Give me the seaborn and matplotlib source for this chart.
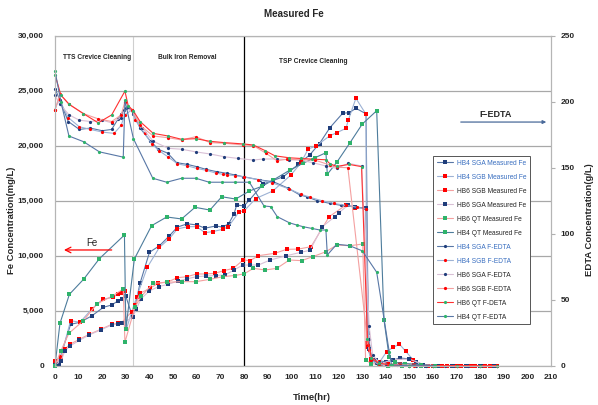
import numpy as np
import pandas as pd
import matplotlib.pyplot as plt
import seaborn as sns
from matplotlib.ticker import FuncFormatter, MultipleLocator

# ---- data (time in hr) ----
# Fe concentration, mg/L (left axis)
HB4_SGA_FE_T = [0, 1.5, 3, 6.6, 10.6, 15.5, 20.5, 24, 26.8, 28.5, 30, 32.9, 36, 40, 44.2, 48.4, 51.8, 56, 60, 63.5,
                68, 71, 73.5, 75.8, 76.9, 80, 82.3, 88.2, 96.7, 103, 108, 112, 116.4, 121.8, 124.6, 127.4, 131.7,
                132.6, 134, 136, 140, 143.2, 146, 150.3, 153, 157, 163, 169, 175, 181, 187]
HB4_SGA_FE = [300, 200, 1300, 3760, 3950, 4520, 5310, 5520, 5910, 6100, 6300, 4400, 7490, 10310, 10900, 11800, 12600,
              12900, 12800, 12500, 12700, 12600, 12900, 13790, 14610, 14520, 15060, 16520, 17180, 18300, 19200, 20200,
              21640, 22950, 23000, 23400, 22900, 2940, 580, 500, 350, 520, 700, 610, 350, 0, 0, 0, 0, 0, 0]

HB4_SGB_FE_T = [0, 2.5, 6.6, 10.6, 15.5, 20.2, 24.7, 26.5, 28.5, 29.5, 30.2, 32.5, 34.6, 39.1, 44.2, 48.4, 51.8, 56.2,
                60, 63.5, 67, 71, 73.4, 78, 80, 85, 92.2, 99.9, 104, 107.2, 110.5, 116.4, 119.5, 123.2, 124.2, 127.4,
                131.7, 131.9, 134, 137, 140.4, 143.2, 145.8, 148.5, 151.7, 155, 160, 166, 172, 178, 184, 187]
HB4_SGB_FE = [400, 800, 4090, 3950, 5130, 6040, 6220, 6520, 6640, 6800, 3300, 4910, 6270, 8950, 10760, 11550, 12430,
              12640, 12640, 12090, 12200, 12400, 12640, 14000, 14060, 15200, 15880, 17340, 18400, 19700, 19970, 20910,
              21200, 21580, 22340, 24310, 22850, 2030, 400, 200, 1270, 1670, 1970, 1300, 520, 100, 0, 0, 0, 0, 0, 0]

HB6_SGB_FE_T = [0, 2.5, 4.2, 6.4, 10.3, 14.5, 19.3, 24, 26.8, 28.2, 32.5, 34, 36, 40.2, 43.7, 48, 51.8, 55.8, 60, 63.8,
                67.7, 71.5, 75.5, 79.7, 82.6, 86.1, 93.1, 98.1, 103, 108.4, 116.1, 123.2, 127, 131.7, 132.2, 134, 137,
                141, 146, 152, 158, 164, 170, 176, 182, 187]
HB6_SGB_FE = [200, 700, 1520, 1950, 2400, 2850, 3300, 3760, 3850, 3910, 4910, 5500, 6580, 7040, 7490, 7640, 8000, 8090,
              8340, 8340, 8400, 8640, 8850, 9610, 9550, 10000, 10220, 10580, 10600, 10820, 13550, 14610, 14360, 14310,
              1730, 600, 300, 200, 150, 100, 0, 0, 0, 0, 0, 0]

HB6_SGA_FE_T = [0, 2.5, 4.2, 6.4, 10.3, 14.5, 19.3, 24, 26.8, 28.2, 32.9, 34.5, 36.5, 40, 44, 48, 52, 56, 60, 64, 68,
                72, 75.8, 79.5, 82.6, 86.1, 91, 98, 104, 108, 113.2, 118.5, 120.2, 124.2, 127, 131.7, 133, 135, 138,
                143, 150, 156, 162, 168, 174, 180, 186]
HB6_SGA_FE = [100, 400, 1350, 1800, 2300, 2800, 3250, 3700, 3800, 3850, 4400, 5200, 6100, 6800, 7200, 7400, 7700, 7900,
              8100, 8150, 8200, 8250, 8700, 9150, 9150, 9150, 9600, 10000, 10300, 10500, 12640, 13550, 13910, 14610,
              14400, 14300, 1500, 500, 200, 550, 600, 100, 0, 0, 0, 0, 0]

HB6_QT_FE_T = [0, 2.5, 5.9, 12, 17.7, 24, 28.9, 29.6, 33.9, 36.5, 41.6, 47.3, 53.6, 59.6, 65.6, 71, 76, 80, 84, 88.9,
               93.9, 99.2, 104.4, 109.1, 114.7, 119.3, 124.9, 130.3, 131.5, 134, 137, 141, 147, 155, 161]
HB6_QT_FE = [0, 1360, 2950, 4090, 5610, 6300, 6970, 2130, 5360, 6300, 7490, 7580, 7640, 7640, 7850, 8090, 8200, 8340,
             8850, 8700, 8850, 9610, 9550, 9910, 10360, 10970, 10910, 11060, 500, 200, 100, 0, 0, 0, 0]

HB4_QT_FE_T = [0, 2.1, 6.1, 12.2, 18.8, 29.4, 30, 33.6, 40.9, 47.3, 53.6, 59.3, 65.6, 70.6, 76.5, 82.3, 87.5, 92.4,
               99.5, 105, 110, 114.7, 115.3, 119.5, 124.9, 130.1, 136.2, 139.3, 141.5, 144, 148, 155, 161]
HB4_QT_FE = [0, 3850, 6490, 7880, 9730, 11880, 3340, 9700, 12730, 13520, 13340, 14400, 14150, 15360, 15150, 15880,
             16300, 16880, 17790, 18400, 18900, 19360, 17400, 18550, 20270, 21970, 23180, 4150, 760, 300, 200, 100, 0]

# F-EDTA concentration, g/L (right axis)
HB4_SGA_EDTA_T = [0, 2.1, 5.6, 10.3, 15, 20, 24, 26.6, 28, 29.2, 31, 33.2, 36, 40.2, 43.7, 47.7, 51.5, 55.8, 60, 63.8,
                  68.4, 72.7, 76.2, 79.7, 86.8, 92.4, 98.8, 103.7, 106.6, 111, 116.4, 121, 127, 131.7, 132.8, 134, 136,
                  140, 145, 150, 157, 165, 175, 187]
HB4_SGA_EDTA = [210, 201, 185, 179, 180, 178, 179, 186.6, 190.5, 193.7, 196, 191, 180, 170.6, 164, 161, 153.8, 152.6,
                150.8, 148.8, 147, 145.8, 144.5, 143.2, 140.7, 139.4, 134.4, 129.3, 128, 125, 123, 121.5, 120.5, 119,
                20, 5, 2, 1, 0.5, 0, 0, 0, 0, 0]

HB4_SGB_EDTA_T = [0, 1.7, 5.6, 10.3, 15, 20, 25, 28, 29.5, 32.5, 34, 38, 41, 44, 48, 51.8, 55.8, 60, 64, 68, 71, 73,
                  76, 80, 86, 92, 99, 104, 108, 113, 118, 123, 128, 131.7, 132.8, 134, 137, 142, 150, 160, 170, 180,
                  187]
HB4_SGB_EDTA = [194, 202, 188, 181, 179, 177, 176, 182, 190, 193.7, 186, 176, 168, 163, 158, 153, 151.5, 149.5, 148,
                146, 145, 144.5, 144, 143, 141, 138.5, 134, 130, 127.5, 125, 123, 121.5, 120, 118.5, 12, 4, 1, 0.5, 0,
                0, 0, 0, 0]

HB6_SGA_EDTA_T = [0, 2, 6, 10.3, 15, 20, 24, 28, 30, 33.2, 37, 41.6, 48, 53.6, 59.6, 65.6, 71.7, 77.6, 84, 88.2, 93.9,
                  99.2, 103.7, 109.1, 114.7, 119.3, 124.2, 129.8, 133, 134.5, 137, 140, 146, 153, 160, 170, 180, 187]
HB6_SGA_EDTA = [205, 198, 190, 186, 185, 186, 184, 188, 195, 192, 180, 170, 164.7, 164, 162, 160.4, 158.3, 157, 155.8,
                156.6, 156.6, 156, 155.8, 153.8, 151.3, 149.5, 153.3, 151.3, 30, 8, 3, 1, 0.5, 0, 0, 0, 0, 0]

HB6_SGB_EDTA_T = [0, 2.1, 6, 12, 18.3, 24, 28, 29.6, 32.5, 36, 41.6, 48, 53.6, 59.6, 65.6, 71.7, 79.7, 84, 89.3, 93.9,
                  98.1, 104, 110, 116.4, 119.3, 124, 132.5, 134, 137, 141, 146, 152, 160, 170, 180, 187]
HB6_SGB_EDTA = [194, 205.6, 198, 191, 187, 185, 190, 200, 193.7, 182, 174, 172.7, 171, 173.5, 169, 168.5, 167.2, 166.7,
                161, 155.3, 156.4, 156, 155.8, 152, 150.3, 150, 15.6, 6, 2, 1, 0.5, 0, 0, 0, 0, 0]

HB6_QT_EDTA_T = [0, 2.5, 6, 12, 18.3, 24, 29.6, 31, 33.2, 36, 41.6, 48, 53.6, 59.6, 65.6, 71.7, 79.7, 84, 88.9, 93.1,
                 99.2, 104, 109, 114.7, 116.4, 119.3, 124.5, 129.8, 132.3, 134, 137, 142, 150, 160, 170, 180, 187]
HB6_QT_EDTA = [220.5, 205, 198, 191, 184, 190, 208, 197, 193, 185, 176, 174, 171.5, 172, 170, 169, 168, 167.2, 163,
               159, 157.5, 157, 156.5, 156, 153, 151, 152.5, 150.8, 20, 6, 2, 0.5, 0, 0, 0, 0, 0]

HB4_QT_EDTA_T = [0, 2.5, 5.9, 12.1, 18.8, 28.9, 29.6, 33.2, 41.4, 47.3, 53.6, 59.6, 65.3, 70.6, 76.2, 82.3, 88.5, 91.3,
                 94.1, 99.2, 102.3, 105.1, 108.7, 112.2, 114.7, 115.3, 119.3, 124.6, 130.1, 136.2, 141.5, 142.5, 150,
                 161]
HB4_QT_EDTA = [223.3, 200, 174, 169.7, 162, 158, 201, 172, 142, 139, 142, 142, 139, 139, 139, 139, 121, 120.5, 112.9,
               108.3, 106.6, 105.3, 104, 102.8, 102.8, 83.9, 92, 91, 87, 70.8, 10.6, 0.5, 0, 0]

# colours
NAVY = '#1f3d7a'
RED = '#ff0000'
GREEN = '#2fb36b'
STEEL = '#5877a6'
LIGHT_BLUE = '#9db2d4'
PINK = '#f4a0a0'
PALE_PINK = '#d9c0d6'
RED_LINE = '#ff3030'
TEAL_BLUE = '#4d7c9c'

sns.set_style("white")
plt.rcParams['font.family'] = ['Liberation Sans', 'DejaVu Sans']

fig = plt.figure(figsize=(5.98, 4.05), dpi=100)
ax = fig.add_axes([55 / 598, 1 - 365.7 / 405, 496 / 598, 330 / 405])
ax2 = ax.twinx()


def draw(axis, t, v, label, line, mcolor, marker, ms):
    sns.lineplot(x=t, y=v, ax=axis, color=line, lw=0.8, marker=marker, ms=ms,
                 markerfacecolor=mcolor, markeredgecolor=mcolor, mew=0,
                 estimator=None, sort=False, legend=False, label=label, clip_on=False)
    return axis.get_lines()[-1]


handles = []
handles.append(draw(ax, HB4_SGA_FE_T, HB4_SGA_FE, 'HB4 SGA Measured Fe', STEEL, NAVY, 's', 3.2))
handles.append(draw(ax, HB4_SGB_FE_T, HB4_SGB_FE, 'HB4 SGB Measured Fe', LIGHT_BLUE, RED, 's', 3.2))
handles.append(draw(ax, HB6_SGB_FE_T, HB6_SGB_FE, 'HB6 SGB Measured Fe', PINK, RED, 's', 3.2))
handles.append(draw(ax, HB6_SGA_FE_T, HB6_SGA_FE, 'HB6 SGA Measured Fe', PALE_PINK, NAVY, 's', 3.2))
handles.append(draw(ax, HB6_QT_FE_T, HB6_QT_FE, 'HB6 QT Measured Fe', PINK, GREEN, 's', 3.2))
handles.append(draw(ax, HB4_QT_FE_T, HB4_QT_FE, 'HB4 QT Measured Fe', TEAL_BLUE, GREEN, 's', 3.2))
handles.append(draw(ax2, HB4_SGA_EDTA_T, HB4_SGA_EDTA, 'HB4 SGA F-EDTA', STEEL, NAVY, 'o', 2.3))
handles.append(draw(ax2, HB4_SGB_EDTA_T, HB4_SGB_EDTA, 'HB4 SGB F-EDTA', LIGHT_BLUE, RED, 'o', 2.3))
handles.append(draw(ax2, HB6_SGA_EDTA_T, HB6_SGA_EDTA, 'HB6 SGA F-EDTA', PALE_PINK, NAVY, 'o', 2.3))
handles.append(draw(ax2, HB6_SGB_EDTA_T, HB6_SGB_EDTA, 'HB6 SGB F-EDTA', PINK, RED, 'o', 2.3))
handles.append(draw(ax2, HB6_QT_EDTA_T, HB6_QT_EDTA, 'HB6 QT F-DETA', RED_LINE, GREEN, 'o', 2.3))
handles.append(draw(ax2, HB4_QT_EDTA_T, HB4_QT_EDTA, 'HB4 QT F-EDTA', STEEL, GREEN, 'o', 2.3))

# axes
ax.set_xlim(0, 210)
ax.set_ylim(0, 30000)
ax2.set_ylim(0, 250)
ax.xaxis.set_major_locator(MultipleLocator(10))
ax.xaxis.set_minor_locator(MultipleLocator(2))
ax.yaxis.set_major_locator(MultipleLocator(5000))
ax2.yaxis.set_major_locator(MultipleLocator(50))
ax.yaxis.set_major_formatter(FuncFormatter(lambda v, p: f"{int(v):,}"))

ax.yaxis.grid(True, color='#a8a8a8', lw=0.9)
ax.set_axisbelow(True)
ax.axvline(80, color='black', lw=0.9, zorder=1)
ax.axvline(33, color='#cfcfcf', lw=0.8, zorder=1)

for a in (ax, ax2):
    for s in a.spines.values():
        s.set_color('#b5b5b5')
        s.set_linewidth(0.8)

ax.tick_params(axis='x', which='major', length=0, pad=6, labelsize=6, labelcolor='#262626')
ax.tick_params(axis='x', which='minor', length=2, direction='in', color='#b0b0b0', width=0.6)
ax.tick_params(axis='y', length=0, pad=8, labelsize=6, labelcolor='#262626')
ax2.tick_params(axis='y', length=3, color='#b0b0b0', pad=4, labelsize=6, labelcolor='#262626')
ax.set_xlabel('')
ax.set_ylabel('')
ax2.set_ylabel('')

# legend
leg = ax2.legend(handles=handles, loc='upper left', bbox_to_anchor=(0.762, 0.635), fontsize=4.8,
                 frameon=True, fancybox=False, framealpha=1, edgecolor='#555555',
                 labelspacing=1.05, handlelength=2.5, handletextpad=0.5, borderpad=0.55, borderaxespad=0)
leg.get_frame().set_linewidth(0.7)
blue_txt = {'HB4 SGA Measured Fe', 'HB4 SGB Measured Fe', 'HB4 SGA F-EDTA', 'HB4 SGB F-EDTA'}
for txt in leg.get_texts():
    txt.set_color('#3a6fc0' if txt.get_text() in blue_txt else '#262626')

# phase labels and arrows
ax.text(3.4, 28050, 'TTS Crevice Cleaning', fontsize=4.8, fontweight='bold', va='center', ha='left')
ax.text(43.6, 28000, 'Bulk Iron Removal', fontsize=4.8, fontweight='bold', va='center', ha='left')
ax.text(95, 27650, 'TSP Crevice Cleaning', fontsize=4.8, fontweight='bold', va='center', ha='left')

ax.annotate('', xy=(3.8, 10520), xytext=(24, 10520),
            arrowprops=dict(arrowstyle='->', color='red', lw=0.9, shrinkA=0, shrinkB=0))
ax.text(15.5, 11200, 'Fe', fontsize=7, ha='center', va='center', color='#262626')
ax.annotate('', xy=(208, 22150), xytext=(171.8, 22150),
            arrowprops=dict(arrowstyle='-|>', color='#4a6a9a', lw=0.9, mutation_scale=5, shrinkA=0, shrinkB=0))
ax.text(186.7, 22800, 'F-EDTA', fontsize=6.5, fontweight='bold', ha='center', va='center', color='#262626')

# titles and axis labels
fig.text(294 / 598, 1 - 14 / 405, 'Measured Fe', ha='center', va='center', fontsize=7, fontweight='bold')
fig.text(312 / 598, 1 - 398 / 405, 'Time(hr)', ha='center', va='center', fontsize=6.8, fontweight='bold')
fig.text(12 / 598, 1 - 220 / 405, 'Fe Concentration(mg/L)', ha='center', va='center', rotation=90,
         fontsize=6.8, fontweight='bold')
fig.text(590 / 598, 1 - 220 / 405, 'EDTA Concentration(g/L)', ha='center', va='center', rotation=90,
         fontsize=6.8, fontweight='bold')

# bold tick labels (set after the ticks exist)
fig.canvas.draw()
for lab in ax.get_xticklabels() + ax.get_yticklabels() + ax2.get_yticklabels():
    lab.set_fontweight('bold')

plt.savefig('out.png', dpi=100)
